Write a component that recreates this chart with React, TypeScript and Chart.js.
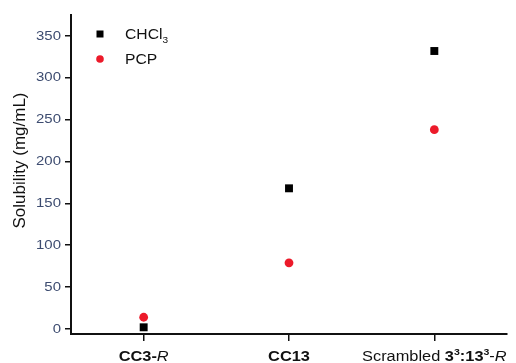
import React, { useEffect, useRef } from "react";
import { Chart, registerables } from "chart.js";

Chart.register(...registerables);

// ---- data ----
const categories = ["CC3-R", "CC13", "Scrambled 3³:13³-R"];
const categoryPositions = [1, 2, 3];
const chcl3Values = [2, 168, 332];
const pcpValues = [14, 79, 238];
const yTicks = [0, 50, 100, 150, 200, 250, 300, 350];
const seriesNames = ["CHCl3", "PCP"];
const yTitle = "Solubility (mg/mL)";

type Seg = { t: string; b?: boolean; i?: boolean; sup?: boolean; sub?: boolean };

const categoryRich: Seg[][] = [
  [{ t: "CC3-", b: true }, { t: "R", i: true }],
  [{ t: "CC13", b: true }],
  [
    { t: "Scrambled " },
    { t: "3", b: true },
    { t: "3", b: true, sup: true },
    { t: ":13", b: true },
    { t: "3", b: true, sup: true },
    { t: "-" },
    { t: "R", i: true },
  ],
];

const legendRich: Seg[][] = [
  [{ t: "CHCl" }, { t: "3", sub: true }],
  [{ t: "PCP" }],
];

const FONT = '"Liberation Sans", Arial, Helvetica, sans-serif';
const RED = "#ec1a2a";

function segFont(s: Seg, size: number) {
  const sz = s.sup || s.sub ? Math.round(size * 0.62) : size;
  return `${s.i ? "italic " : ""}${s.b ? "bold " : ""}${sz}px ${FONT}`;
}

function drawRich(
  ctx: CanvasRenderingContext2D,
  segs: Seg[],
  x: number,
  baseline: number,
  size: number,
  sx: number,
  color: string,
  align: "center" | "left"
) {
  ctx.save();
  ctx.textAlign = "left";
  ctx.textBaseline = "alphabetic";
  ctx.fillStyle = color;
  let w = 0;
  for (const s of segs) {
    ctx.font = segFont(s, size);
    w += ctx.measureText(s.t).width;
  }
  ctx.translate(x, baseline);
  ctx.scale(sx, 1);
  let cx = align === "center" ? -w / 2 : 0;
  for (const s of segs) {
    ctx.font = segFont(s, size);
    const dy = s.sup ? -size * 0.42 : s.sub ? size * 0.28 : 0;
    ctx.fillText(s.t, cx, dy);
    cx += ctx.measureText(s.t).width;
  }
  ctx.restore();
}

const textPlugin = {
  id: "customText",
  afterDraw(chart: any) {
    const ctx: CanvasRenderingContext2D = chart.ctx;
    const xs = chart.scales.x;
    const ys = chart.scales.y;

    // y tick labels
    ctx.save();
    ctx.fillStyle = "#3d4c70";
    ctx.textAlign = "right";
    ctx.textBaseline = "middle";
    ctx.font = `13px ${FONT}`;
    for (const v of yTicks) {
      const py = ys.getPixelForValue(v);
      ctx.save();
      ctx.translate(61, py);
      ctx.scale(1.15, 1);
      ctx.fillText(String(v), 0, 0);
      ctx.restore();
    }
    ctx.restore();

    // y title
    ctx.save();
    ctx.translate(25, 160.5);
    ctx.rotate(-Math.PI / 2);
    ctx.fillStyle = "#111";
    ctx.textAlign = "center";
    ctx.textBaseline = "alphabetic";
    ctx.font = `17px ${FONT}`;
    ctx.fillText(yTitle, 0, 0);
    ctx.restore();

    // x category labels
    categoryRich.forEach((segs, i) => {
      const px = xs.getPixelForValue(categoryPositions[i]);
      drawRich(ctx, segs, px, 361, 14, 1.17, "#111", "center");
    });

    // legend
    const lx = 100;
    const rows = [34, 59];
    // square
    ctx.save();
    ctx.fillStyle = "#000";
    ctx.fillRect(lx - 3.5, rows[0] - 3.5, 7, 7);
    ctx.fillStyle = RED;
    ctx.beginPath();
    ctx.arc(lx, rows[1], 3.8, 0, Math.PI * 2);
    ctx.fill();
    ctx.restore();
    legendRich.forEach((segs, i) => {
      drawRich(ctx, segs, 125, rows[i] + 5, 14, 1.12, "#111", "left");
    });
  },
};

export default function App() {
  const ref = useRef<HTMLCanvasElement | null>(null);

  useEffect(() => {
    document.body.style.margin = "0";
    if (!ref.current) return;
    const chart = new Chart(ref.current, {
      type: "scatter",
      data: {
        datasets: [
          {
            label: seriesNames[0],
            data: categoryPositions.map((x, i) => ({ x, y: chcl3Values[i] })),
            pointStyle: "rect",
            pointRadius: 5.6,
            pointBorderWidth: 0,
            backgroundColor: "#000",
            borderColor: "#000",
          },
          {
            label: seriesNames[1],
            data: categoryPositions.map((x, i) => ({ x, y: pcpValues[i] })),
            pointStyle: "circle",
            pointRadius: 4.4,
            pointBorderWidth: 0,
            backgroundColor: RED,
            borderColor: RED,
          },
        ],
      },
      options: {
        animation: false,
        responsive: true,
        maintainAspectRatio: false,
        layout: { padding: { top: 15, right: 9, left: 0, bottom: 0 } },
        plugins: {
          legend: { display: false },
          tooltip: { enabled: false },
          title: { display: false },
        },
        scales: {
          x: {
            type: "linear",
            min: 0.5,
            max: 3.5,
            afterBuildTicks: (s: any) => {
              s.ticks = categoryPositions.map((v) => ({ value: v }));
            },
            afterFit: (s: any) => {
              s.height = 29;
            },
            ticks: { color: "rgba(0,0,0,0)", callback: () => "" },
            grid: {
              drawOnChartArea: false,
              drawTicks: true,
              tickLength: 7,
              color: "#111",
              lineWidth: 1.5,
            },
            border: { display: true, color: "#111", width: 2 },
          },
          y: {
            type: "linear",
            min: -6,
            max: 375,
            afterBuildTicks: (s: any) => {
              s.ticks = yTicks.map((v) => ({ value: v }));
            },
            afterFit: (s: any) => {
              s.width = 71;
            },
            ticks: { color: "rgba(0,0,0,0)", callback: () => "" },
            grid: {
              drawOnChartArea: false,
              drawTicks: true,
              tickLength: 6,
              color: "#111",
              lineWidth: 1.5,
            },
            border: { display: true, color: "#111", width: 2 },
          },
        },
      },
      plugins: [textPlugin],
    });
    return () => chart.destroy();
  }, []);

  return (
    <div style={{ width: 516, height: 363, position: "relative" }}>
      <canvas ref={ref} />
    </div>
  );
}
